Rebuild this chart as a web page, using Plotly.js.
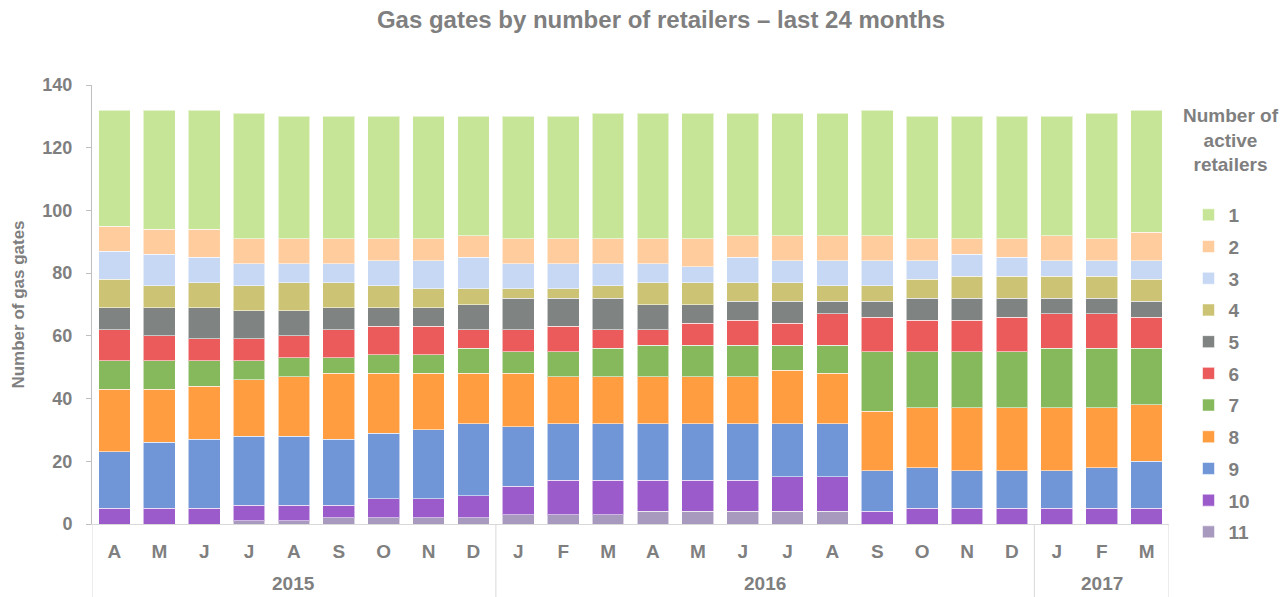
<!DOCTYPE html>
<html>
<head>
<meta charset="utf-8">
<script src="https://cdn.plot.ly/plotly-3.0.1.min.js"></script>
<style>html,body{margin:0;padding:0;background:#fff;}#chart{width:1288px;height:597px;}</style>
</head>
<body>
<div id="chart"></div>
<script>
const months = ['A','M','J','J','A','S','O','N','D','J','F','M','A','M','J','J','A','S','O','N','D','J','F','M'];
const years  = ['2015','2015','2015','2015','2015','2015','2015','2015','2015',
                '2016','2016','2016','2016','2016','2016','2016','2016','2016','2016','2016','2016',
                '2017','2017','2017'];

const s1  = [37,38,38,40,39,39,39,39,38,39,39,40,40,40,39,39,39,40,39,39,39,38,40,39];
const s2  = [8,8,9,8,8,8,7,7,7,8,8,8,8,9,7,8,8,8,7,5,6,8,7,9];
const s3  = [9,10,8,7,6,6,8,9,10,8,8,7,6,5,8,7,8,8,6,7,6,5,5,6];
const s4  = [9,7,8,8,9,8,7,6,5,3,3,4,7,7,6,6,5,5,6,7,7,7,7,7];
const s5  = [7,9,10,9,8,7,6,6,8,10,9,10,8,6,6,7,4,5,7,7,6,5,5,5];
const s6  = [10,8,7,7,7,9,9,9,6,7,8,6,5,7,8,7,10,11,10,10,11,11,11,10];
const s7  = [9,9,8,6,6,5,6,6,8,7,8,9,10,10,10,8,9,19,18,18,18,19,19,18];
const s8  = [20,17,17,18,19,21,19,18,16,17,15,15,15,15,15,17,16,19,19,20,20,20,19,18];
const s9  = [18,21,22,22,22,21,21,22,23,19,18,18,18,18,18,17,17,13,13,12,12,12,13,15];
const s10 = [5,5,5,5,5,4,6,6,7,9,11,11,10,10,10,11,11,4,5,5,5,5,5,5];
const s11 = [0,0,0,1,1,2,2,2,2,3,3,3,4,4,4,4,4,0,0,0,0,0,0,0];

const seriesNames = ['11','10','9','8','7','6','5','4','3','2','1'];
const seriesValues = [s11,s10,s9,s8,s7,s6,s5,s4,s3,s2,s1];
const seriesColors = ['#a899be','#9b5bcb','#7096d8','#ff9d40','#85b95b','#eb5b5b','#7f8382','#ccc374','#c6d8f3','#ffcc9e','#c6e597'];

const gray = '#7f7f7f';
const FONT = 'Liberation Sans, Arial, sans-serif';
const idx = months.map((m,i)=>i);

const traces = seriesNames.map((n,k)=>({
  type:'bar', name:n, x:idx, y:seriesValues[k], legendgroup:'g'+n, legendrank:Number(n),
  marker:{color:seriesColors[k], line:{color:'rgba(255,255,255,0.55)', width:1}},
  hovertemplate:'%{y}<extra>'+n+'</extra>'
}));

// year groups
const groups = [];
years.forEach((y,i)=>{
  if(!groups.length || groups[groups.length-1].year!==y) groups.push({year:y,start:i,end:i});
  else groups[groups.length-1].end=i;
});
const shapes = [];
const annotations = [];
const bottomPaper = -73/439;
groups.forEach((g,gi)=>{
  shapes.push({type:'line', xref:'x', yref:'paper', x0:g.start-0.5, x1:g.start-0.5, y0:0, y1:bottomPaper, line:{color:'#d9d9d9', width:1}});
  if(gi===groups.length-1) shapes.push({type:'line', xref:'x', yref:'paper', x0:g.end+0.5, x1:g.end+0.5, y0:0, y1:bottomPaper, line:{color:'#d9d9d9', width:1}});
  annotations.push({xref:'x', yref:'paper', x:(g.start+g.end)/2, y:(524-583)/439, yanchor:'middle', xanchor:'center', showarrow:false,
    text:g.year, font:{family:FONT, size:19, color:gray, weight:'bold'}});
});
annotations.push({xref:'paper', yref:'paper', x:(1230-92)/1076, y:(524-140)/439, xanchor:'center', yanchor:'middle', showarrow:false, align:'center',
  text:'Number of<br>active<br>retailers', font:{family:FONT, size:19, color:gray, weight:'bold'}});

const layout = {
  width:1288, height:597,
  margin:{l:92, r:119, t:85, b:73, pad:0},
  paper_bgcolor:'#fff', plot_bgcolor:'#fff',
  barmode:'stack', bargap:0.29,
  font:{family:FONT, color:gray},
  title:{text:'Gas gates by number of retailers – last 24 months', x:661/1288, xanchor:'center', xref:'container', y:1-20/597, yanchor:'middle', yref:'container',
    font:{family:FONT, size:24, color:gray, weight:'bold'}},
  xaxis:{range:[-0.5,23.5], tickvals:idx, ticktext:months, showline:true, linecolor:'#d9d9d9', linewidth:1, ticks:'', showgrid:false, zeroline:false,
    tickfont:{family:FONT, size:19, color:gray, weight:'bold'}, ticklabelstandoff:10, fixedrange:true},
  yaxis:{range:[0,140], dtick:20, showline:true, linecolor:'#bfbfbf', linewidth:1, ticks:'outside', ticklen:5, tickcolor:'#bfbfbf', showgrid:false, zeroline:false,
    tickfont:{family:FONT, size:18, color:gray, weight:'bold'}, ticklabelstandoff:10,
    title:{text:'Number of gas gates', font:{family:FONT, size:17, color:gray, weight:'bold'}, standoff:13}},
  legend:{x:(1187.5-92)/1076, xanchor:'left', y:(524-196)/439, yanchor:'top', traceorder:'grouped', tracegroupgap:4,
    font:{family:FONT, size:19, color:gray, weight:'bold'}, itemwidth:30, bgcolor:'rgba(0,0,0,0)'},
  shapes:shapes, annotations:annotations
};
Plotly.newPlot('chart', traces, layout, {displayModeBar:false, responsive:false});
</script>
</body>
</html>
